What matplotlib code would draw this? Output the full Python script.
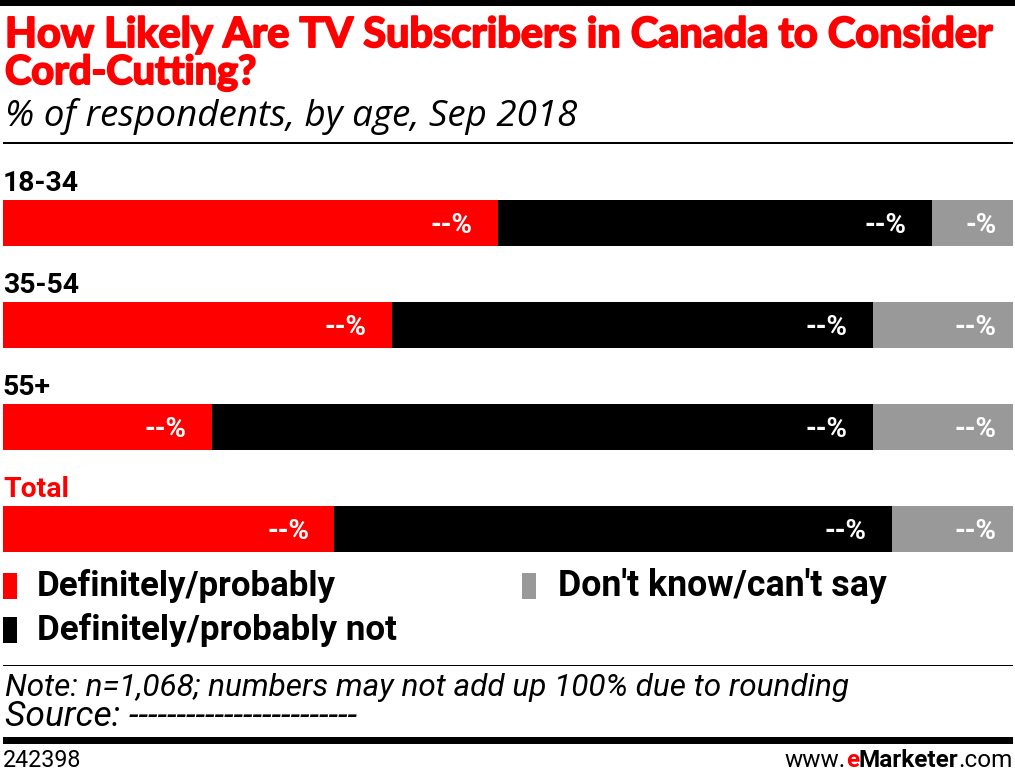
import matplotlib
matplotlib.use("Agg")
import matplotlib.pyplot as plt
from matplotlib.patches import Rectangle
from matplotlib import font_manager
import matplotlib.patheffects as pe

# ---- data ----
categories = ["18-34", "35-54", "55+", "Total"]
series_names = ["Definitely/probably", "Definitely/probably not", "Don't know/can't say"]
definitely_probably = [49, 38.5, 20.7, 32.8]
definitely_probably_not = [43, 47.6, 65.4, 55.2]
dont_know = [8, 13.9, 13.9, 12]
value_labels = [
    ["--%", "--%", "-%"],
    ["--%", "--%", "--%"],
    ["--%", "--%", "--%"],
    ["--%", "--%", "--%"],
]
title_lines = ["How Likely Are TV Subscribers in Canada to Consider", "Cord-Cutting?"]
subtitle = "% of respondents, by age, Sep 2018"
note = "Note: n=1,068; numbers may not add up 100% due to rounding"
source = "Source: ------------------------"
chart_id = "242398"

RED = "#FF0000"
BLACK = "#000000"
GRAY = "#999999"
colors = [RED, BLACK, GRAY]

W, H = 1015, 770
fig = plt.figure(figsize=(W / 100, H / 100), dpi=100)

avail = {f.name for f in font_manager.fontManager.ttflist}
def pick(*names):
    for n in names:
        if n in avail:
            return n
    return "DejaVu Sans"

F_TITLE = pick("Lato", "Open Sans", "DejaVu Sans")
F_NARROW = pick("Liberation Sans Narrow", "Roboto", "DejaVu Sans")
F_ITAL = pick("Open Sans", "Lato", "DejaVu Sans")

def fx(x):
    return x / W
def fy(y):
    return 1 - y / H

renderer = fig.canvas.get_renderer()

def fit_size(s, target_w, size, **kw):
    t = fig.text(0, 0, s, fontsize=size, **kw)
    bb = t.get_window_extent(renderer=renderer)
    t.remove()
    return size * target_w / bb.width if bb.width > 0 else size

def fit_text(x, y, s, target_w, size, ha="left", va="baseline", **kw):
    fs = fit_size(s, target_w, size, **kw)
    return fig.text(fx(x), fy(y), s, ha=ha, va=va, fontsize=fs, **kw)

# rules
fig.add_artist(Rectangle((0, fy(6)), 1, 6 / H, transform=fig.transFigure, color=BLACK, lw=0))
fig.add_artist(Rectangle((fx(3), fy(144)), 1010 / W, 2 / H, transform=fig.transFigure, color=BLACK, lw=0))
fig.add_artist(Rectangle((fx(3), fy(666)), 1010 / W, 1.5 / H, transform=fig.transFigure, color=BLACK, lw=0))
fig.add_artist(Rectangle((fx(3), fy(744)), 1010 / W, 7 / H, transform=fig.transFigure, color=BLACK, lw=0))

# title / subtitle
thick = [pe.withStroke(linewidth=1.4, foreground=RED)]
t = fit_text(5, 47, title_lines[0], 986, 27, color=RED, family=F_TITLE, fontweight="bold")
t.set_path_effects(thick)
t = fit_text(5, 84, title_lines[1], 251, 27, color=RED, family=F_TITLE, fontweight="bold")
t.set_path_effects(thick)
fit_text(5, 126, subtitle, 573, 24, color=BLACK, family=F_ITAL, style="italic")

# bars
ax = fig.add_axes([fx(3), fy(580), 1010 / W, 408 / H])
ax.set_xlim(0, 100)
ax.set_ylim(3.5, -0.5)
ax.axis("off")
vfs = fit_size("--%", 42, 20, fontweight="bold", family=F_NARROW)
cfs = fit_size("18-34", 76, 22, fontweight="bold", family=F_NARROW)
series = [definitely_probably, definitely_probably_not, dont_know]
ypos = list(range(len(categories)))
left = [0.0] * len(categories)
for si, vals in enumerate(series):
    ax.barh(ypos, vals, left=left, height=0.45, color=colors[si], edgecolor="none")
    for i, v in enumerate(vals):
        end = left[i] + v
        pad = 1.6 if si == 2 else 2.5
        ax.text(end - pad, i + 0.02, value_labels[i][si], ha="right", va="center",
                color="white", fontsize=vfs, fontweight="bold", family=F_NARROW)
    left = [l + v for l, v in zip(left, vals)]

for i, c in enumerate(categories):
    ax.text(0, i - 0.31, c, ha="left", va="baseline", fontsize=cfs, fontweight="bold",
            family=F_NARROW, color=RED if c == "Total" else BLACK)

# legend
leg = [(3, 573, 37, 596, series_names[0], 299, RED),
       (3, 617, 37, 640, series_names[1], 360, BLACK),
       (522, 573, 558, 596, series_names[2], 329, GRAY)]
for mx, my, tx, ty, s, tw, col in leg:
    fig.add_artist(Rectangle((fx(mx), fy(my + 26)), 14 / W, 26 / H, transform=fig.transFigure,
                             color=col, lw=0))
    fit_text(tx, ty, s, tw, 20, color=BLACK, family=F_NARROW, fontweight="bold")

# notes
fit_text(5, 696, note, 845, 19, color=BLACK, family=F_NARROW, style="italic")
fit_text(5, 726, source, 353, 19, color=BLACK, family=F_NARROW, style="italic")
fit_text(3, 767, chart_id, 79, 14, color=BLACK, family=F_NARROW)

# footer brand
bfs = 17.5
t1 = fig.text(fx(1013), fy(767), ".com", ha="right", va="baseline", fontsize=bfs, family=F_NARROW)
bb = t1.get_window_extent(renderer=renderer)
t2 = fig.text(bb.x0 / W, fy(767), "Marketer", ha="right", va="baseline", fontsize=bfs,
              family=F_NARROW, fontweight="bold")
bb = t2.get_window_extent(renderer=renderer)
t3 = fig.text(bb.x0 / W, fy(767), "e", ha="right", va="baseline", fontsize=bfs,
              family=F_NARROW, fontweight="bold", color=RED)
bb = t3.get_window_extent(renderer=renderer)
fig.text(bb.x0 / W, fy(767), "www.", ha="right", va="baseline", fontsize=bfs, family=F_NARROW)

fig.savefig("out.png", dpi=100)
